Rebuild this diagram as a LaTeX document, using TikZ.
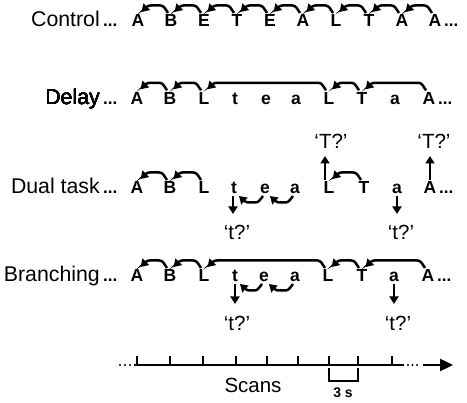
\documentclass[tikz,border=0pt]{standalone}
\usepackage{fontspec}
\setmainfont{Liberation Sans}
\usetikzlibrary{arrows.meta}
\tikzset{
  lab/.style={font=\fontsize{21.3}{24}\selectfont, anchor=base east, inner sep=0pt},
  let/.style={font=\bfseries\fontsize{17.5}{20}\selectfont, anchor=base, inner sep=0pt},
  dotsl/.style={font=\bfseries\fontsize{17}{20}\selectfont, anchor=base west, inner sep=0pt},
  quest/.style={font=\fontsize{20.5}{24}\selectfont, inner sep=0pt},
  arr/.style={line width=2.5pt, rounded corners=2.5pt, -{Triangle[length=7.5pt,width=9pt]}},
  varr/.style={line width=2.5pt, -{Triangle[length=7.5pt,width=9pt]}},
  axis/.style={line width=1.8pt},
}
\newcommand{\TopArr}[2]{\draw[arr] ([shift={(-3,14)}]#2.base) -- ([shift={(-8,21.5)}]#2.base) -- ([shift={(10,21.5)}]#1.base) -- ([shift={(3.5,15)}]#1.base);}
\newcommand{\BotArr}[2]{\draw[arr] ([shift={(-2,-2)}]#2.base) -- ([shift={(-7,-8.5)}]#2.base) -- ([shift={(12,-8.5)}]#1.base) -- ([shift={(5,-2)}]#1.base);}
\begin{document}
\begin{tikzpicture}[x=1pt,y=1pt]
\useasboundingbox (0,0) rectangle (467,-403);
% ---------- Control ----------
\node[lab] (lc) at (100,-27) {Control};
\node[dotsl] (lcd) at (103,-27) {...};
\foreach \n/\l/\x in {1/A/138,2/B/171,3/E/204,4/T/237,5/E/270,6/A/303,7/L/336,8/T/369,9/A/402,10/A/435}
  \node[let] (c\n) at (\x,-27) {\l};
\node[dotsl] (ced) at (444,-27) {...};
\foreach \a/\b in {1/2,2/3,3/4,4/5,5/6,6/7,7/8,8/9,9/10} \TopArr{c\a}{c\b}
% ---------- Delay ----------
\node[lab] (ld) at (100,-104.3) {Delay};
\node[dotsl] (ldd) at (103,-104.3) {...};
\foreach \n/\l/\x in {1/A/137,2/B/170,3/L/204,4/t/235,5/e/266,6/a/296,7/L/329,8/T/362,9/a/395,10/A/429}
  \node[let] (d\n) at (\x,-104.3) {\l};
\node[dotsl] (ded) at (438,-104.3) {...};
\TopArr{d1}{d2}
\TopArr{d2}{d3}
\TopArr{d3}{d7}
\TopArr{d7}{d8}
\TopArr{d8}{d10}
% ---------- Dual task ----------
\node[lab] (lu) at (100,-194) {Dual task};
\node[dotsl] (lud) at (103,-194) {...};
\foreach \n/\l/\x in {1/A/137,2/B/170,3/L/204,4/t/234,5/e/265,6/a/295,7/L/329,8/T/364,9/a/397,10/A/430}
  \node[let] (u\n) at (\x,-194) {\l};
\node[dotsl] (ued) at (439,-194) {...};
\TopArr{u1}{u2}
\TopArr{u2}{u3}
\TopArr{u7}{u8}
\BotArr{u4}{u5}
\BotArr{u5}{u6}
\node[quest] (tq1) at (331,-141) {‘T?’};
\node[quest] (tq2) at (434,-141) {‘T?’};
\node[quest] (sq1) at (237,-232) {‘t?’};
\node[quest] (sq2) at (401,-232) {‘t?’};
\draw[varr] ([shift={(-4,14)}]u7.base) -- ([shift={(-4,38)}]u7.base);
\draw[varr] ([shift={(0,14)}]u10.base) -- ([shift={(0,38)}]u10.base);
\draw[varr] ([shift={(-1,-2)}]u4.base) -- ([shift={(-1,-20)}]u4.base);
\draw[varr] ([shift={(0,-2)}]u9.base) -- ([shift={(0,-20)}]u9.base);
% ---------- Branching ----------
\node[lab] (lb) at (100,-282) {Branching};
\node[dotsl] (lbd) at (103,-282) {...};
\foreach \n/\l/\x in {1/A/137,2/B/170,3/L/204,4/t/235,5/e/264,6/a/295,7/L/328,8/T/362,9/a/394,10/A/428}
  \node[let] (b\n) at (\x,-282) {\l};
\node[dotsl] (bed) at (437,-282) {...};
\TopArr{b1}{b2}
\TopArr{b2}{b3}
\TopArr{b3}{b7}
\TopArr{b7}{b8}
\TopArr{b8}{b10}
\BotArr{b4}{b5}
\BotArr{b5}{b6}
\node[quest] (sq3) at (237,-323) {‘t?’};
\node[quest] (sq4) at (398,-323) {‘t?’};
\draw[varr] ([shift={(0,-2)}]b4.base) -- ([shift={(0,-22)}]b4.base);
\draw[varr] ([shift={(0,-2)}]b9.base) -- ([shift={(0,-22)}]b9.base);
% ---------- Time axis ----------
\foreach \x in {120,125,130} \fill (\x,-365) circle (1.1pt);
\draw[axis] (134,-365) -- (404,-365);
\foreach \x in {137,170,203,236,267,298,329,358,392} \draw[axis] (\x,-365) -- (\x,-356);
\foreach \x in {408,412.5,417} \fill (\x,-365) circle (1.1pt);
\coordinate (ta) at (423,-365);
\coordinate (tb) at (453,-365);
\draw[line width=2.4pt, -{Triangle[length=13pt,width=12pt]}] (ta) -- (tb);
\node[quest, anchor=base] (scans) at (253,-393) {Scans};
\draw[line width=2pt] (329,-368) -- (329,-381) -- (358,-381) -- (358,-368);
\node[font=\bfseries\fontsize{14}{16}\selectfont, anchor=base, inner sep=0pt] (ts) at (343,-398) {3 s};
\end{tikzpicture}
\end{document}
